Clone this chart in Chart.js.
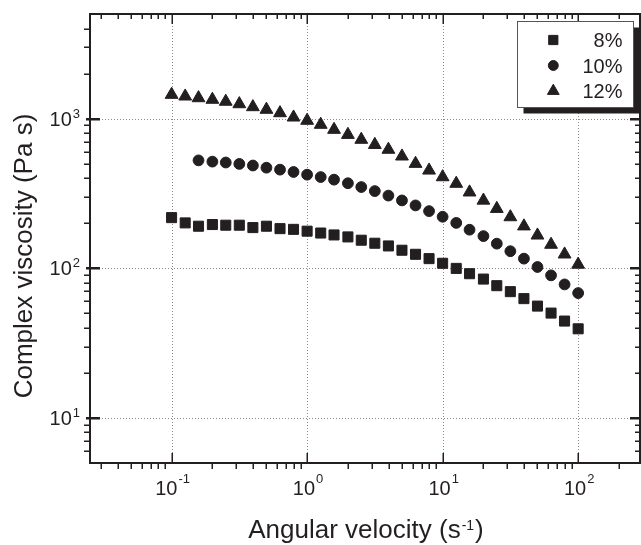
<!DOCTYPE html>
<html><head><meta charset="utf-8">
<script src="https://cdn.jsdelivr.net/npm/chart.js@4.4.1/dist/chart.umd.min.js"></script>
<style>html,body{margin:0;padding:0;background:#fff;}canvas{display:block;}</style>
</head><body>
<canvas id="c" width="641" height="545"></canvas>
<script>
// ---- data ----
const seriesLabels = ['8%', '10%', '12%'];
const omega = [0.1, 0.126, 0.158, 0.2, 0.251, 0.316, 0.398, 0.501, 0.631, 0.794,
  1, 1.26, 1.58, 2, 2.51, 3.16, 3.98, 5.01, 6.31, 7.94,
  10, 12.6, 15.8, 20, 25.1, 31.6, 39.8, 50.1, 63.1, 79.4, 100];
const omega10 = [0.158, 0.2, 0.251, 0.316, 0.398, 0.501, 0.631, 0.794,
  1, 1.26, 1.58, 2, 2.51, 3.16, 3.98, 5.01, 6.31, 7.94,
  10, 12.6, 15.8, 20, 25.1, 31.6, 39.8, 50.1, 63.1, 79.4, 100];
const eta8 = [218, 201, 191, 196, 194, 194, 187, 191, 184, 182,
  177, 172, 167, 162, 154, 147, 141, 132, 124, 116,
  108, 99.8, 92.0, 84.7, 76.5, 69.8, 62.7, 55.9, 50.2, 44.4, 39.4];
const eta10 = [526, 516, 509, 498, 486, 470, 456, 440,
  422, 407, 391, 370, 349, 328, 306, 284, 263, 241,
  221, 201, 181, 164, 146, 130, 116, 102, 89.7, 78.0, 68.3];
const eta12 = [1446, 1409, 1373, 1340, 1300, 1252, 1196, 1149, 1090, 1020,
  970, 912, 844, 781, 724, 669, 621, 560, 500, 451,
  407, 368, 322, 284, 250, 220, 191, 166, 144, 124, 106];
const xTickValues = [0.1, 1, 10, 100];
const xTickExponents = ['-1', '0', '1', '2'];
const yTickValues = [10, 100, 1000];
const yTickExponents = ['1', '2', '3'];
const xTitleMain = 'Angular velocity (s';
const xTitleSup = '-1';
const xTitleEnd = ')';
const yTitle = 'Complex viscosity (Pa s)';

const INK = '#231f20';
const FONT = '"Liberation Sans", Arial, Helvetica, sans-serif';
const styles = ['rect', 'circle', 'triangle'];
const radii = [7.1, 5.4, 7.4];

function pts(xs, ys) { return xs.map((x, i) => ({ x: x, y: ys[i] })); }

function minorValues(min, max) {
  const out = [];
  for (let k = Math.floor(Math.log10(min)) - 1; k <= Math.ceil(Math.log10(max)); k++) {
    for (let d = 1; d <= 9; d++) {
      const v = d * Math.pow(10, k);
      if (v > min * 1.0001 && v < max * 0.9999) out.push({ v: v, major: d === 1 });
    }
  }
  return out;
}

function drawSupLabel(ctx, main, sup, x, y, align, mainSize, supSize, supRise) {
  ctx.font = mainSize + 'px ' + FONT;
  const wm = ctx.measureText(main).width;
  ctx.font = supSize + 'px ' + FONT;
  const ws = ctx.measureText(sup).width;
  const total = wm + ws + 1;
  let x0 = x;
  if (align === 'center') x0 = x - total / 2;
  else if (align === 'right') x0 = x - total;
  ctx.textAlign = 'left';
  ctx.textBaseline = 'alphabetic';
  ctx.font = mainSize + 'px ' + FONT;
  ctx.fillText(main, x0, y);
  ctx.font = supSize + 'px ' + FONT;
  ctx.fillText(sup, x0 + wm + 1, y - supRise);
}

const framePlugin = {
  id: 'frame',
  beforeDatasetsDraw(chart) {
    const ctx = chart.ctx;
    const a = chart.chartArea;
    const xs = chart.scales.x, ys = chart.scales.y;
    ctx.save();
    ctx.strokeStyle = '#8a8a8a';
    ctx.lineWidth = 1;
    ctx.setLineDash([1, 2]);
    xTickValues.forEach(v => {
      const px = Math.round(xs.getPixelForValue(v)) + 0.5;
      ctx.beginPath(); ctx.moveTo(px, a.top); ctx.lineTo(px, a.bottom); ctx.stroke();
    });
    yTickValues.forEach(v => {
      const py = Math.round(ys.getPixelForValue(v)) + 0.5;
      ctx.beginPath(); ctx.moveTo(a.left, py); ctx.lineTo(a.right, py); ctx.stroke();
    });
    ctx.restore();
  },
  afterDatasetsDraw(chart) {
    const ctx = chart.ctx;
    const a = chart.chartArea;
    const xs = chart.scales.x, ys = chart.scales.y;
    const L = a.left, R = a.right, T = a.top, B = a.bottom;
    ctx.save();
    ctx.strokeStyle = INK;
    ctx.fillStyle = INK;
    // ticks
    ctx.lineWidth = 1.5;
    minorValues(xs.min, xs.max).forEach(t => {
      const px = Math.round(xs.getPixelForValue(t.v)) + 0.25;
      ctx.beginPath();
      if (t.major) {
        ctx.moveTo(px, B); ctx.lineTo(px, B - 10);
        ctx.moveTo(px, T); ctx.lineTo(px, T + 10);
      } else {
        ctx.moveTo(px, B); ctx.lineTo(px, B + 6);
        ctx.moveTo(px, T); ctx.lineTo(px, T + 5);
      }
      ctx.stroke();
    });
    minorValues(ys.min, ys.max).forEach(t => {
      const py = Math.round(ys.getPixelForValue(t.v)) + 0.25;
      ctx.beginPath();
      if (t.major) {
        ctx.lineWidth = 2.5;
        ctx.moveTo(L - 4, py); ctx.lineTo(L + 10, py);
        ctx.moveTo(R, py); ctx.lineTo(R - 10, py);
      } else {
        ctx.lineWidth = 1.5;
        ctx.moveTo(L, py); ctx.lineTo(L - 6, py);
        ctx.moveTo(R, py); ctx.lineTo(R - 5, py);
      }
      ctx.stroke();
    });
    // frame
    ctx.lineWidth = 2;
    ctx.strokeRect(L, T, R - L, B - T);
    // tick labels
    xTickValues.forEach((v, i) => {
      const px = xs.getPixelForValue(v);
      drawSupLabel(ctx, '10', xTickExponents[i], px + 1, B + 32, 'center', 20, 13, 12);
    });
    yTickValues.forEach((v, i) => {
      const py = ys.getPixelForValue(v);
      drawSupLabel(ctx, '10', yTickExponents[i], 80, py + 7, 'right', 20, 13, 8);
    });
    // axis titles
    ctx.font = '26px ' + FONT;
    const w1 = ctx.measureText(xTitleMain).width;
    ctx.font = '14px ' + FONT;
    const w2 = ctx.measureText(xTitleSup).width;
    ctx.font = '26px ' + FONT;
    const w3 = ctx.measureText(xTitleEnd).width;
    const tw = w1 + w2 + w3 + 2;
    const cx = (L + R) / 2 + 1;
    const x0 = cx - tw / 2;
    ctx.textAlign = 'left'; ctx.textBaseline = 'alphabetic';
    ctx.fillText(xTitleMain, x0, 538);
    ctx.font = '14px ' + FONT;
    ctx.fillText(xTitleSup, x0 + w1 + 1, 530);
    ctx.font = '26px ' + FONT;
    ctx.fillText(xTitleEnd, x0 + w1 + w2 + 2, 538);

    ctx.save();
    ctx.translate(31.5, 256);
    ctx.rotate(-Math.PI / 2);
    ctx.textAlign = 'center';
    ctx.font = '26px ' + FONT;
    ctx.fillText(yTitle, 0, 0);
    ctx.restore();

    // legend
    const bx = 517.5, by = 21.5, bw = 116, bh = 86;
    ctx.fillStyle = INK;
    ctx.fillRect(bx + 6, by + 6, bw, bh);
    ctx.fillStyle = '#ffffff';
    ctx.fillRect(bx, by, bw, bh);
    ctx.strokeStyle = '#555555';
    ctx.lineWidth = 1;
    ctx.strokeRect(bx, by, bw, bh);
    const rowY = [40, 65.5, 91];
    const textY = [47, 73, 98];
    chart.data.datasets.forEach((ds, i) => {
      ctx.fillStyle = INK;
      ctx.strokeStyle = INK;
      ctx.lineWidth = 1;
      Chart.helpers.drawPoint(ctx, { pointStyle: ds.pointStyle, radius: ds.pointRadius * 0.92, borderWidth: 1, rotation: 0 }, 553.3, rowY[i]);
      ctx.fillStyle = INK;
      ctx.font = '20px ' + FONT;
      ctx.textAlign = 'right';
      ctx.textBaseline = 'alphabetic';
      ctx.fillText(ds.label, 622.5, textY[i]);
    });
    ctx.restore();
  }
};

const datasets = [pts(omega, eta8), pts(omega10, eta10), pts(omega, eta12)].map((d, i) => ({
  label: seriesLabels[i],
  data: d,
  pointStyle: styles[i],
  pointRadius: radii[i],
  pointHoverRadius: radii[i],
  borderWidth: 1,
  backgroundColor: INK,
  borderColor: INK,
  showLine: false
}));

new Chart(document.getElementById('c'), {
  type: 'scatter',
  data: { datasets: datasets },
  options: {
    responsive: false,
    animation: false,
    devicePixelRatio: 1,
    layout: { autoPadding: false, padding: { left: 90, top: 14, right: 1, bottom: 82 } },
    plugins: { legend: { display: false }, tooltip: { enabled: false } },
    scales: {
      x: { type: 'logarithmic', min: 0.025, max: 286, display: false },
      y: { type: 'logarithmic', min: 5, max: 5000, display: false }
    }
  },
  plugins: [framePlugin]
});
</script>
</body></html>
